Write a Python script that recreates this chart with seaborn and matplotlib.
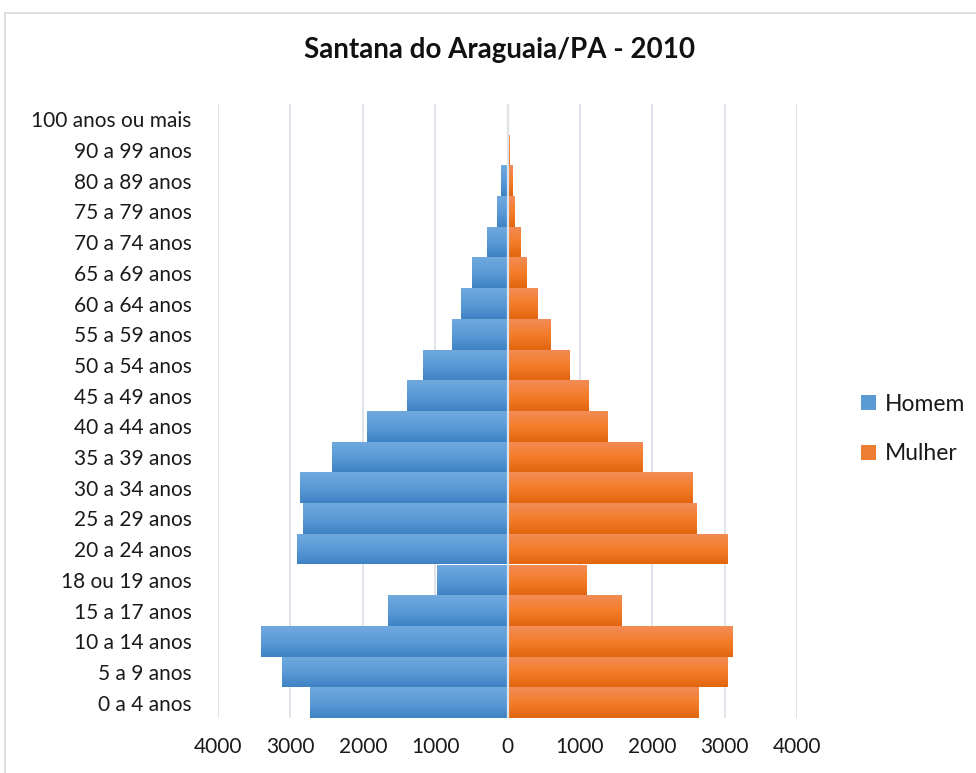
import numpy as np
import pandas as pd
import matplotlib
matplotlib.use("Agg")
import matplotlib.pyplot as plt
import seaborn as sns
from matplotlib.colors import LinearSegmentedColormap
from matplotlib.patches import Patch, Rectangle

# ---- data (bottom to top) ----
age_groups = ["0 a 4 anos", "5 a 9 anos", "10 a 14 anos", "15 a 17 anos", "18 ou 19 anos",
              "20 a 24 anos", "25 a 29 anos", "30 a 34 anos", "35 a 39 anos", "40 a 44 anos",
              "45 a 49 anos", "50 a 54 anos", "55 a 59 anos", "60 a 64 anos", "65 a 69 anos",
              "70 a 74 anos", "75 a 79 anos", "80 a 89 anos", "90 a 99 anos", "100 anos ou mais"]
homem = [2725, 3122, 3402, 1656, 968, 2905, 2820, 2862, 2418, 1937,
         1394, 1172, 771, 646, 494, 286, 148, 92, 10, 1]
mulher = [2635, 3026, 3095, 1571, 1090, 3026, 2608, 2556, 1862, 1381,
          1117, 854, 590, 410, 258, 175, 92, 65, 18, 2]
x_ticks = [-4000, -3000, -2000, -1000, 0, 1000, 2000, 3000, 4000]
title = "Santana do Araguaia/PA - 2010"
series_names = ["Homem", "Mulher"]

order = age_groups[::-1]
df = pd.DataFrame({"faixa": age_groups, "Homem": homem, "Mulher": mulher})
df["Homem_neg"] = -df["Homem"]

sns.set_theme(style="white")
plt.rcParams["font.family"] = ["Lato", "DejaVu Sans"]

W, H = 976, 773
fig = plt.figure(figsize=(W / 100, H / 100), dpi=100)
fig.patch.set_facecolor("white")

# chart border (top/left visible)
fig.patches.append(Rectangle((5 / W, -0.1), 1.2, 1 - 13 / H + 0.1, transform=fig.transFigure,
                             fill=False, edgecolor="#d9d9d9", lw=1.2, zorder=0))

ax = fig.add_axes([218 / W, 1 - 718 / H, (797 - 218) / W, (718 - 104) / H])
ax.set_facecolor("none")

blue_mid, orange_mid = "#5b9bd5", "#ed7d31"
sns.barplot(data=df, x="Homem_neg", y="faixa", order=order, color=blue_mid,
            width=1.0, orient="h", ax=ax, saturation=1, linewidth=0)
n_h = len(ax.patches)
sns.barplot(data=df, x="Mulher", y="faixa", order=order, color=orange_mid,
            width=1.0, orient="h", ax=ax, saturation=1, linewidth=0)

cm_blue = LinearSegmentedColormap.from_list("b", ["#70a9de", "#5b9bd8", "#3f83c5"])
cm_orange = LinearSegmentedColormap.from_list("o", ["#f28c56", "#f47d2a", "#e2650f"])
grad = np.linspace(0, 1, 64).reshape(-1, 1)
patches = list(ax.patches)
for i, p in enumerate(patches):
    cmap = cm_blue if i < n_h else cm_orange
    x0, y0 = p.get_x(), p.get_y()
    w, h = p.get_width(), p.get_height()
    if w == 0:
        continue
    im = ax.imshow(grad, cmap=cmap, aspect="auto", origin="upper",
                   extent=[x0, x0 + w, y0 + h, y0], zorder=2, interpolation="bilinear")
    im.set_clip_path(p)
    p.set_facecolor("none")

ax.set_xlim(-4000, 4000)
ax.set_ylim(len(order) - 0.5, -0.5)
ax.set_xticks(x_ticks)
ax.set_xticklabels([str(abs(v)) for v in x_ticks])
ax.grid(axis="x", color="#dde1e8", lw=1.3, zorder=0)
ax.set_axisbelow(True)
ax.axvline(0, color="#dfe3e8", lw=1.6, zorder=3)
for s in ax.spines.values():
    s.set_visible(False)
ax.set_xlabel("")
ax.set_ylabel("")
ax.tick_params(axis="both", length=0, labelsize=15, colors="#1a1a1a")
ax.tick_params(axis="y", pad=19)
ax.tick_params(axis="x", pad=14)

fig.text(500 / W, 1 - 50 / H, title, ha="center", va="center",
         fontsize=20, fontweight="bold", color="#111111")

handles = [Patch(facecolor="#5b9bd5", edgecolor="none"), Patch(facecolor="#ed7d31", edgecolor="none")]
fig.legend(handles, series_names, loc="center left", bbox_to_anchor=(861 / W, 1 - 429 / H),
           frameon=False, handlelength=0.65, handleheight=0.65, handletextpad=0.4,
           labelspacing=1.25, fontsize=16.5, labelcolor="#1a1a1a", borderaxespad=0, borderpad=0)

fig.savefig("out.png", dpi=100, facecolor="white")
